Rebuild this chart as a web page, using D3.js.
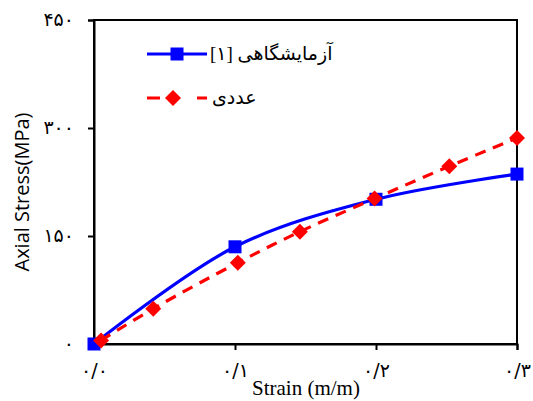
<!DOCTYPE html>
<html><head><meta charset="utf-8">
<script src="https://cdn.jsdelivr.net/npm/d3@7"></script>
<style>body{margin:0;background:#fff}svg{display:block}</style>
</head><body><svg id="c" width="533" height="401"></svg>
<script>
const expX = [0, 0.1, 0.2, 0.3];
const expY = [0, 135, 201, 236];
const numX = [0.005, 0.042, 0.102, 0.146, 0.199, 0.252, 0.3];
const numY = [5, 49, 113, 156, 202, 247, 286];
const xTicks = [0, 0.1, 0.2, 0.3];
const xTickLabels = ["۰/۰", "۰/۱", "۰/۲", "۰/۳"];
const yTicks = [0, 150, 300, 450];
const yTickLabels = ["۰", "۱۵۰", "۳۰۰", "۴۵۰"];
const seriesNames = ["آزمایشگاهی [۱]", "عددی"];

const svg = d3.select("#c");
const L = 94, R = 517, T = 20, B = 344;
const x = d3.scaleLinear().domain([0, 0.3]).range([L, R]);
const y = d3.scaleLinear().domain([0, 450]).range([B, T]);
const ff = "'Times New Roman','Liberation Serif','DejaVu Sans',serif";

svg.append("rect").attr("x", L).attr("y", T).attr("width", R - L).attr("height", B - T)
  .attr("fill", "none").attr("stroke", "#000").attr("stroke-width", 2);

const xAxis = svg.append("g").attr("transform", `translate(0,${B})`)
  .call(d3.axisBottom(x).tickValues(xTicks).tickSize(6).tickFormat((d, i) => xTickLabels[i]));
const yAxis = svg.append("g").attr("transform", `translate(${L},0)`)
  .call(d3.axisLeft(y).tickValues(yTicks).tickSize(6).tickFormat((d, i) => yTickLabels[i]));
[xAxis, yAxis].forEach(g => {
  g.select(".domain").attr("stroke", "#000").attr("stroke-width", 2);
  g.selectAll(".tick line").attr("stroke", "#000").attr("stroke-width", 2);
  g.selectAll(".tick text").attr("font-family", "'DejaVu Sans',sans-serif").attr("font-size", 19)
    .attr("fill", "#000").attr("letter-spacing", 3);
});
xAxis.selectAll(".tick text").attr("dy", "0").attr("y", 33);
yAxis.selectAll(".tick text").attr("x", -20).attr("dy", "0.3em");

svg.append("text").attr("x", 306).attr("y", 395).attr("text-anchor", "middle")
  .attr("font-family", "'Liberation Serif','Times New Roman',serif").attr("font-size", 21).text("Strain (m/m)");
svg.append("text").attr("transform", "translate(29,192) rotate(-90)").attr("text-anchor", "middle")
  .attr("font-family", "'Open Sans','Noto Sans',sans-serif").attr("font-size", 20).text("Axial Stress(MPa)");

const line = d3.line().curve(d3.curveCatmullRom.alpha(0.5)).x(d => x(d[0])).y(d => y(d[1]));
const expData = expX.map((v, i) => [v, expY[i]]);
const numData = numX.map((v, i) => [v, numY[i]]);

svg.append("path").datum(expData).attr("d", line).attr("fill", "none")
  .attr("stroke", "#0000ff").attr("stroke-width", 3.2);
svg.append("path").datum(numData).attr("d", line).attr("fill", "none")
  .attr("stroke", "#ff0000").attr("stroke-width", 3.2).attr("stroke-dasharray", "11,8");

const sq = 13, dm = 8;
svg.selectAll(".sq").data(expData).enter().append("rect")
  .attr("x", d => x(d[0]) - sq / 2).attr("y", d => y(d[1]) - sq / 2)
  .attr("width", sq).attr("height", sq).attr("fill", "#0000ff");
const diamond = (cx, cy) => `M${cx},${cy - dm}L${cx + dm},${cy}L${cx},${cy + dm}L${cx - dm},${cy}Z`;
svg.selectAll(".dm").data(numData).enter().append("path")
  .attr("d", d => diamond(x(d[0]), y(d[1]))).attr("fill", "#ff0000");

const lg = svg.append("g");
lg.append("line").attr("x1", 147).attr("x2", 207).attr("y1", 54).attr("y2", 54)
  .attr("stroke", "#0000ff").attr("stroke-width", 3.2);
lg.append("rect").attr("x", 177 - sq / 2).attr("y", 54 - sq / 2).attr("width", sq).attr("height", sq).attr("fill", "#0000ff");
lg.append("line").attr("x1", 147).attr("x2", 207).attr("y1", 98).attr("y2", 98)
  .attr("stroke", "#ff0000").attr("stroke-width", 3.2).attr("stroke-dasharray", "13,24,0,13");
lg.append("path").attr("d", diamond(173, 98)).attr("fill", "#ff0000");
lg.append("text").attr("x", 210).attr("y", 60).attr("direction", "rtl").attr("text-anchor", "end")
  .attr("font-family", ff).attr("font-size", 19).text(seriesNames[0]);
lg.append("text").attr("x", 212).attr("y", 104).attr("direction", "rtl").attr("text-anchor", "end")
  .attr("font-family", ff).attr("font-size", 19).text(seriesNames[1]);
</script></body></html>
